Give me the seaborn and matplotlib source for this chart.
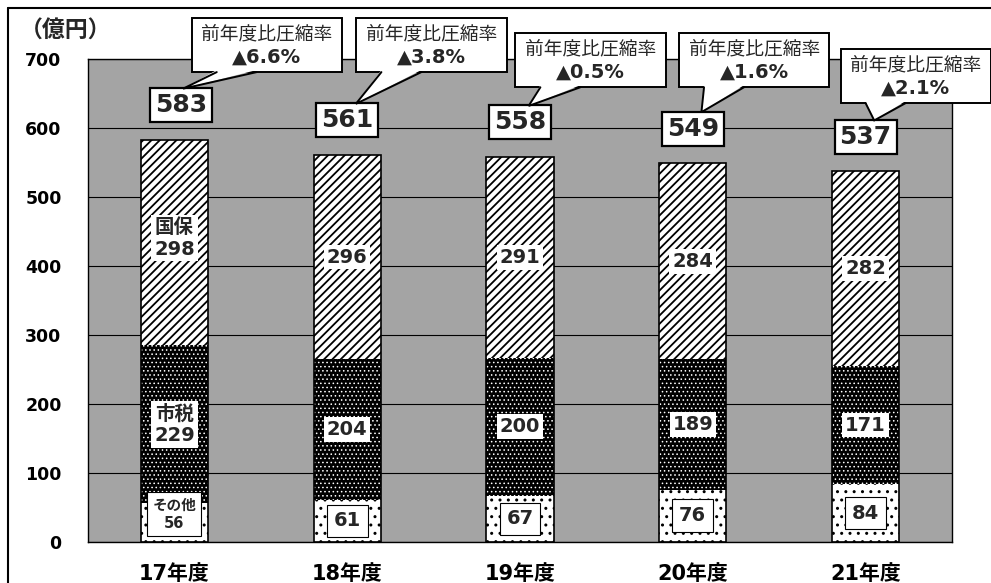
import numpy as np
import pandas as pd
import matplotlib
matplotlib.use('Agg')
import matplotlib.pyplot as plt
from matplotlib.lines import Line2D
from matplotlib.patches import Rectangle, Polygon
import seaborn as sns

# 年度別の内訳（億円）
years = ['17年度', '18年度', '19年度', '20年度', '21年度']
sonota = [56, 61, 67, 76, 84]        # その他
shizei = [229, 204, 200, 189, 171]   # 市税
kokuho = [298, 296, 291, 284, 282]   # 国保
totals = [583, 561, 558, 549, 537]
rates = ['▲6.6%', '▲3.8%', '▲0.5%', '▲1.6%', '▲2.1%']
yticks = [0, 100, 200, 300, 400, 500, 600, 700]

# callout placement (offset from bar centre, height in axis units)
callout_dx = [0.535, 0.488, 0.408, 0.355, 0.29]
callout_y = [720, 720, 698, 698, 675]
BOX_W, BOX_H = 0.87, 78

sns.set_theme(style='white')
plt.rcParams['font.family'] = ['DejaVu Sans', 'Noto Sans CJK JP']

df = pd.DataFrame({'year': years, 'sonota': sonota,
                   'shizei': shizei, 'kokuho': kokuho})
df['b_shizei'] = df['sonota']
df['b_kokuho'] = df['sonota'] + df['shizei']
df['total'] = totals

fig = plt.figure(figsize=(9.91, 5.83), dpi=100)
ax = fig.add_axes([88 / 991, 41 / 583, 864 / 991, 483 / 583])
ax.set_facecolor('#a4a4a4')

W = 0.39
common = dict(data=df, x='year', order=years, width=W, saturation=1,
              errorbar=None, ax=ax, zorder=2)


def hatched(hlw, **kw):
    plt.rcParams['hatch.linewidth'] = hlw
    n0 = len(ax.patches)
    sns.barplot(**kw, **common)
    for p in ax.patches[n0:]:
        if hasattr(p, 'set_hatch_linewidth'):
            p.set_hatch_linewidth(hlw)


# 国保: diagonal hatch
hatched(1.3, y='kokuho', bottom=df['b_kokuho'], color='white',
        edgecolor='black', linewidth=0, hatch='////')
# 市税: black with white dots
hatched(0.6, y='shizei', bottom=df['b_shizei'], color='black',
        edgecolor='white', linewidth=0, hatch='....')
# その他: white with sparse dots
hatched(1.0, y='sonota', color='white', edgecolor='black', linewidth=0,
        hatch='..')
# stack outline
sns.barplot(data=df, x='year', y='total', order=years, width=W, fill=False,
            color='black', linewidth=1.2, errorbar=None, ax=ax, zorder=3)

ax.set_xlim(-0.5, 4.5)
ax.set_ylim(0, 700)
ax.set_xlabel('')
ax.set_ylabel('')
ax.yaxis.grid(True, color='black', lw=0.8)
ax.set_axisbelow(True)
for s in ax.spines.values():
    s.set_color('black')
    s.set_linewidth(1.0)

ax.set_yticks(yticks)
ax.set_yticklabels([str(v) for v in yticks], fontsize=12.5, fontweight='bold')
ax.tick_params(axis='y', length=0, pad=19, colors='black')
ax.set_xticks(range(len(years)))
ax.set_xticklabels(years, fontsize=15, fontweight='bold')
ax.tick_params(axis='x', which='major', length=0, pad=16, colors='black')
ax.set_xticks([0.5, 1.5, 2.5, 3.5], minor=True)
ax.tick_params(axis='x', which='minor', direction='in', length=4,
               width=1, color='black')

plain_box = dict(boxstyle='square,pad=0.15', fc='white', ec='none')
for i in range(len(years)):
    # 国保
    yk = df['b_kokuho'][i] + kokuho[i] / 2
    if i == 0:
        ax.text(i, yk + 6, f'国保\n{kokuho[i]}', ha='center', va='center',
                fontsize=14, fontweight='bold', linespacing=1.15,
                bbox=plain_box, zorder=4)
    else:
        ax.text(i, yk, str(kokuho[i]), ha='center', va='center',
                fontsize=14, fontweight='bold', bbox=plain_box, zorder=4)
    # 市税
    ys = df['b_shizei'][i] + shizei[i] / 2
    if i == 0:
        ax.text(i, ys, f'市税\n{shizei[i]}', ha='center', va='center',
                fontsize=14, fontweight='bold', linespacing=1.15,
                bbox=plain_box, zorder=4)
    else:
        ax.text(i, ys, str(shizei[i]), ha='center', va='center',
                fontsize=14, fontweight='bold', bbox=plain_box, zorder=4)
    # その他
    if i == 0:
        ax.text(i, 40, f'その他\n{sonota[i]}', ha='center', va='center',
                fontsize=10.5, fontweight='bold', linespacing=1.3,
                bbox=dict(boxstyle='square,pad=0.35', fc='white',
                          ec='black', lw=0.8), zorder=4)
    else:
        ax.text(i, max(sonota[i] / 2, 29), str(sonota[i]),
                ha='center', va='center', fontsize=14, fontweight='bold',
                bbox=dict(boxstyle='square,pad=0.35', fc='white',
                          ec='black', lw=0.8), zorder=4)
    # 合計
    ax.text(i + (0.04 if i == 0 else 0), totals[i] + 50, str(totals[i]),
            ha='center', va='center', fontsize=18, fontweight='bold',
            bbox=dict(boxstyle='square,pad=0.2', fc='white', ec='black',
                      lw=1.6), zorder=5, clip_on=False)

    # 前年度比圧縮率 speech bubble
    cx, cy = i + callout_dx[i], callout_y[i]
    x0, y0 = cx - BOX_W / 2, cy - BOX_H / 2
    ax.add_patch(Rectangle((x0, y0), BOX_W, BOX_H, fc='white', ec='black',
                           lw=1.4, zorder=6, clip_on=False))
    apex = (i + 0.05, totals[i] + 74)
    bl, br = x0 + 0.145, x0 + 0.376
    ax.add_patch(Polygon([(bl, y0 + 3), apex, (br, y0 + 3)], closed=True,
                         fc='white', ec='none', zorder=7, clip_on=False))
    ax.add_line(Line2D([bl, apex[0], br], [y0, apex[1], y0], color='black',
                       lw=1.4, zorder=7, clip_on=False,
                       solid_joinstyle='miter'))
    ax.text(cx, cy + 17, '前年度比圧縮率', ha='center', va='center',
            fontsize=13.5, zorder=8, clip_on=False)
    ax.text(cx, cy - 17, rates[i], ha='center', va='center',
            fontsize=14, fontweight='bold', zorder=8, clip_on=False)

fig.text(20 / 991, 1 - 31 / 583, '（億円）', fontsize=16.5, fontweight='bold',
         ha='left', va='center')

# outer frame
fig.add_artist(Line2D([8 / 991, 1], [1 - 8 / 583] * 2, color='black', lw=1.5,
                      transform=fig.transFigure))
fig.add_artist(Line2D([8 / 991] * 2, [0, 1 - 8 / 583], color='black', lw=1.5,
                      transform=fig.transFigure))

fig.savefig('out.png', dpi=100)
